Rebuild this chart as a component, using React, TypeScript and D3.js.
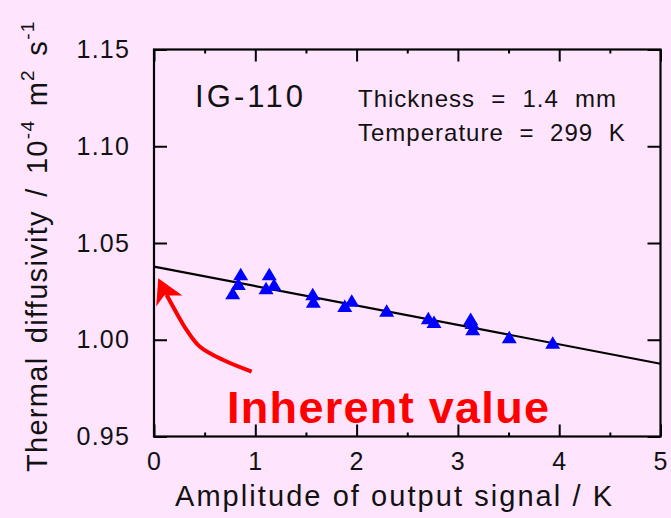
import { useEffect, useRef } from 'react';
import * as d3 from 'd3';

// amplitude of output signal (K) and measured thermal diffusivity (1e-4 m2/s)
const amplitude = [
  0.856, 0.832, 0.777, 1.138, 1.185, 1.106, 1.567, 1.573, 1.883,
  1.952, 2.297, 2.708, 2.764, 3.126, 3.14, 3.146, 3.507, 3.936,
];
const diffusivity = [
  1.0338, 1.0288, 1.024, 1.0338, 1.0284, 1.0266, 1.0235, 1.0197, 1.0174,
  1.0201, 1.015, 1.0111, 1.0092, 1.0107, 1.0086, 1.0054, 1.0013, 0.9985,
];

// linear fit
const fitIntercept = 1.0378;
const fitSlope = -0.01004;

const xTicks = [0, 1, 2, 3, 4, 5];
const xMinorTicks = [0.5, 1.5, 2.5, 3.5, 4.5];
const yTicks = [0.95, 1.0, 1.05, 1.1, 1.15];

// red arrow pointing at the intercept, in data units
const arrowShaftX = [0.964, 0.684, 0.454, 0.323, 0.224, 0.125];
const arrowShaftY = [0.9835, 0.9895, 0.9964, 1.005, 1.0137, 1.0231];
const arrowHeadX = [0.042, 0.28, 0.1, 0.022];
const arrowHeadY = [1.0318, 1.0229, 1.0229, 1.0172];

const FONT = "'Liberation Sans', Arial, sans-serif";
const WIDTH = 671;
const HEIGHT = 518;

export default function App() {
  const svgRef = useRef<SVGSVGElement>(null);

  useEffect(() => {
    if (!svgRef.current) return;
    const svg = d3.select(svgRef.current);
    svg.selectAll('*').remove();

    const x = d3.scaleLinear().domain([0, 5]).range([154, 660.5]);
    const y = d3.scaleLinear().domain([0.95, 1.15]).range([436.5, 49.5]);

    svg.append('rect')
      .attr('width', WIDTH)
      .attr('height', HEIGHT)
      .attr('fill', '#ffe4fe');

    // axes with inward ticks
    const styleAxis = (g: any) => {
      g.select('.domain').remove();
      g.selectAll('.tick line').attr('stroke', '#000').attr('stroke-width', 2);
      g.selectAll('.tick text')
        .attr('fill', '#111')
        .style('font-family', FONT)
        .style('font-size', '25px')
        .style('letter-spacing', '1.2px');
    };

    svg.append('g')
      .attr('transform', `translate(0,${y(0.95)})`)
      .call(d3.axisBottom(x).tickValues(xTicks).tickSize(-12).tickPadding(16).tickFormat(d3.format('d')))
      .call(styleAxis);
    svg.append('g')
      .attr('transform', `translate(0,${y(0.95)})`)
      .call(d3.axisBottom(x).tickValues(xMinorTicks).tickSize(-4).tickFormat(() => ''))
      .call(styleAxis);
    svg.append('g')
      .attr('transform', `translate(0,${y(1.15)})`)
      .call(d3.axisTop(x).tickValues(xTicks).tickSize(-12).tickFormat(() => ''))
      .call(styleAxis);
    svg.append('g')
      .attr('transform', `translate(0,${y(1.15)})`)
      .call(d3.axisTop(x).tickValues(xMinorTicks).tickSize(-4).tickFormat(() => ''))
      .call(styleAxis);
    svg.append('g')
      .attr('transform', `translate(${x(0)},0)`)
      .call(d3.axisLeft(y).tickValues(yTicks).tickSize(-13).tickPadding(24).tickFormat(d3.format('.2f')))
      .call(styleAxis);
    svg.append('g')
      .attr('transform', `translate(${x(5)},0)`)
      .call(d3.axisRight(y).tickValues(yTicks).tickSize(-13).tickFormat(() => ''))
      .call(styleAxis);

    // frame
    svg.append('rect')
      .attr('x', x(0))
      .attr('y', y(1.15))
      .attr('width', x(5) - x(0))
      .attr('height', y(0.95) - y(1.15))
      .attr('fill', 'none')
      .attr('stroke', '#000')
      .attr('stroke-width', 2.2);

    // fit line
    const line = d3.line<number>().x(d => x(d)).y(d => y(fitIntercept + fitSlope * d));
    svg.append('path')
      .attr('d', line([0, 5]))
      .attr('fill', 'none')
      .attr('stroke', '#000')
      .attr('stroke-width', 2.2);

    // data triangles
    const points = amplitude.map((a, i) => [a, diffusivity[i]]);
    svg.selectAll('.pt')
      .data(points)
      .enter()
      .append('path')
      .attr('class', 'pt')
      .attr('d', d => {
        const cx = x(d[0]);
        const cy = y(d[1]);
        return `M${cx},${cy - 6.5}L${cx + 7.5},${cy + 6}L${cx - 7.5},${cy + 6}Z`;
      })
      .attr('fill', '#0000ff');

    // red arrow
    const shaft = d3.line<number>()
      .x(i => x(arrowShaftX[i]))
      .y(i => y(arrowShaftY[i]))
      .curve(d3.curveCatmullRom);
    svg.append('path')
      .attr('d', shaft(d3.range(arrowShaftX.length)))
      .attr('fill', 'none')
      .attr('stroke', '#ff0000')
      .attr('stroke-width', 4);
    svg.append('path')
      .attr('d', d3.line<number>().x(i => x(arrowHeadX[i])).y(i => y(arrowHeadY[i]))(d3.range(arrowHeadX.length)) + 'Z')
      .attr('fill', '#ff0000');

    // annotations
    svg.append('text')
      .attr('x', 195)
      .attr('y', 107)
      .attr('textLength', 108)
      .attr('lengthAdjust', 'spacing')
      .style('font-family', FONT)
      .style('font-size', '31px')
      .attr('fill', '#111')
      .text('IG-110');
    svg.append('text')
      .attr('x', 358)
      .attr('y', 107)
      .style('font-family', FONT)
      .style('font-size', '24px')
      .style('letter-spacing', '1px')
      .style('word-spacing', '8.5px')
      .attr('fill', '#111')
      .text('Thickness = 1.4 mm');
    svg.append('text')
      .attr('x', 358)
      .attr('y', 141)
      .style('font-family', FONT)
      .style('font-size', '24px')
      .style('letter-spacing', '1px')
      .style('word-spacing', '8px')
      .attr('fill', '#111')
      .text('Temperature = 299 K');
    svg.append('text')
      .attr('x', 227)
      .attr('y', 423)
      .attr('textLength', 322)
      .attr('lengthAdjust', 'spacing')
      .style('font-family', FONT)
      .style('font-size', '45px')
      .style('font-weight', 'bold')
      .attr('fill', '#ff0000')
      .text('Inherent value');

    // axis titles
    svg.append('text')
      .attr('x', 175)
      .attr('y', 506)
      .attr('textLength', 437)
      .attr('lengthAdjust', 'spacing')
      .style('font-family', FONT)
      .style('font-size', '29px')
      .attr('fill', '#111')
      .text('Amplitude of output signal / K');

    const yt = svg.append('text')
      .attr('transform', 'translate(47,472) rotate(-90)')
      .style('font-family', FONT)
      .style('font-size', '29px')
      .style('letter-spacing', '1.3px')
      .style('word-spacing', '4px')
      .attr('fill', '#111');
    yt.append('tspan').text('Thermal diffusivity / 10');
    yt.append('tspan').attr('dy', -13).style('font-size', '19px').text('-4');
    yt.append('tspan').attr('dy', 13).text(' m');
    yt.append('tspan').attr('dy', -13).style('font-size', '19px').text('2');
    yt.append('tspan').attr('dy', 13).text(' s');
    yt.append('tspan').attr('dy', -13).style('font-size', '19px').text('-1');
  }, []);

  return (
    <svg
      ref={svgRef}
      width={WIDTH}
      height={HEIGHT}
      style={{ position: 'absolute', left: 0, top: 0 }}
    />
  );
}
